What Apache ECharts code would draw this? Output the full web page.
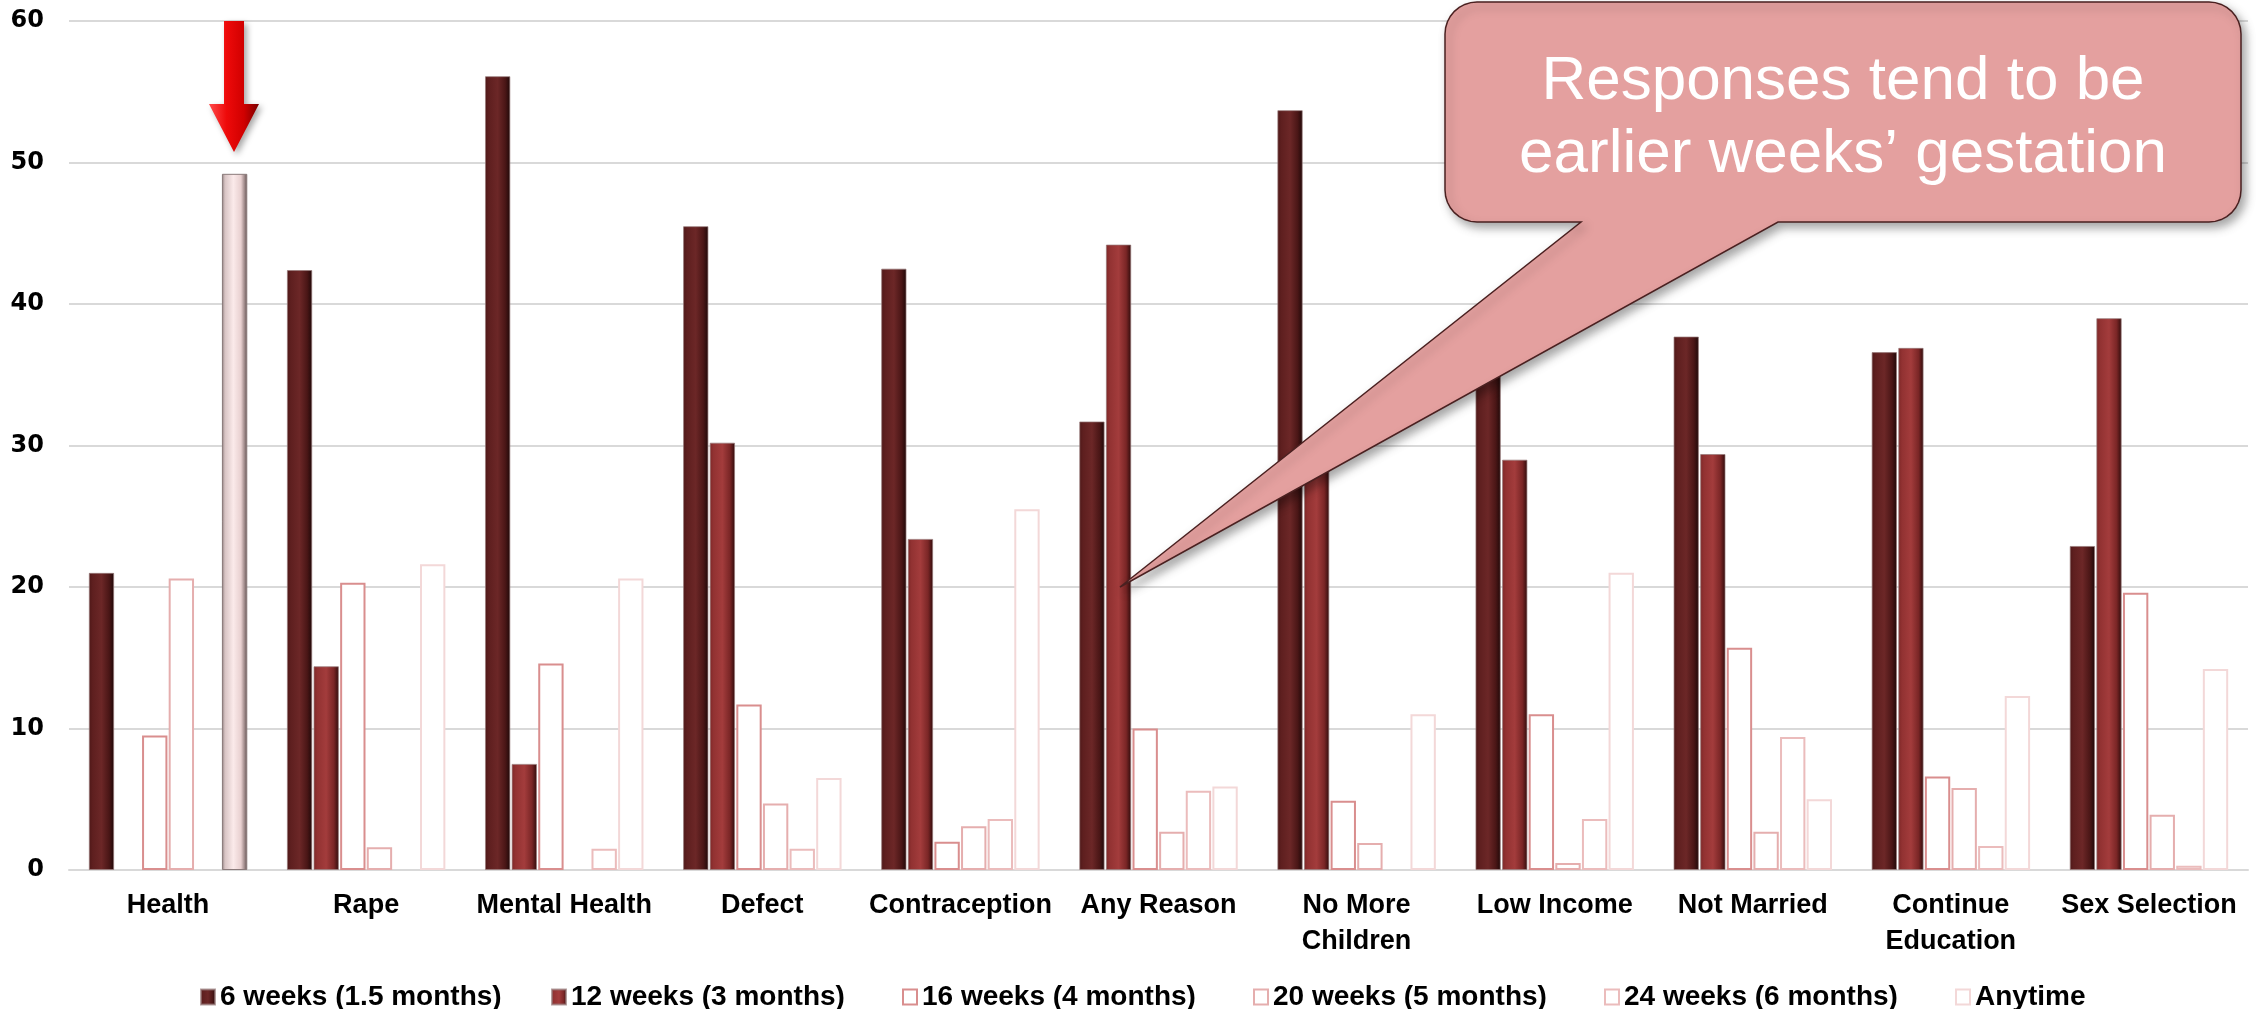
<!DOCTYPE html>
<html>
<head>
<meta charset="utf-8">
<script src="https://cdn.jsdelivr.net/npm/echarts@6/dist/echarts.min.js"></script>
<style>
  html, body { margin: 0; padding: 0; background: #fff; }
  #main { width: 2259px; height: 1009px; }
</style>
</head>
<body>
<div id="main"></div>
<script>
// categories and values (percent)
var categories = ['Health', 'Rape', 'Mental Health', 'Defect', 'Contraception', 'Any Reason',
    'No More\nChildren', 'Low Income', 'Not Married', 'Continue\nEducation', 'Sex Selection'];
var seriesNames = ['6 weeks (1.5 months)', '12 weeks (3 months)', '16 weeks (4 months)',
    '20 weeks (5 months)', '24 weeks (6 months)', 'Anytime'];
var weeks6 = [21.0, 42.4, 56.1, 45.5, 42.5, 31.7, 53.7, 36.0, 37.7, 36.6, 22.9];
var weeks12 = [null, 14.4, 7.5, 30.2, 23.4, 44.2, 29.0, 29.0, 29.4, 36.9, 39.0];
var weeks16 = [9.5, 20.3, 14.6, 11.7, 2.0, 10.0, 4.9, 11.0, 15.7, 6.6, 19.6];
var weeks20 = [20.6, 1.6, null, 4.7, 3.1, 2.7, 1.9, 0.5, 2.7, 5.8, 3.9];
var weeks24 = [null, null, 1.5, 1.5, 3.6, 5.6, null, 3.6, 9.4, 1.7, 0.3];
var anytime = [49.2, 21.6, 20.6, 6.5, 25.5, 5.9, 11.0, 21.0, 5.0, 12.3, 14.2];
var yTicks = [0, 10, 20, 30, 40, 50, 60];
var callout = 'Responses tend to be\nearlier weeks\u2019 gestation';

var font = 'Liberation Sans, Arial, Helvetica, sans-serif';

function hGrad(stops) {
    return new echarts.graphic.LinearGradient(0, 0, 1, 0, stops.map(function (s) {
        return { offset: s[0], color: s[1] };
    }));
}

var darkFill = hGrad([[0, '#4e1818'], [0.15, '#5e1f1f'], [0.5, '#6c2727'], [0.8, '#4a1616'], [1, '#1e0808']]);
var redFill = hGrad([[0, '#7e2727'], [0.15, '#923232'], [0.5, '#a33c3c'], [0.8, '#7a2626'], [1, '#2e0b0b']]);
var highlightFill = hGrad([[0, '#8c7c7c'], [0.12, '#d8c4c4'], [0.45, '#fbeaea'], [0.75, '#e8d0d0'], [0.9, '#9a8585'], [1, '#5e5050']]);

// the Health "Anytime" bar is highlighted in the source
var anytimeData = anytime.map(function (v, i) {
    if (i === 0) {
        return { value: v, itemStyle: { color: highlightFill, borderColor: '#8a7a7a', borderWidth: 1 } };
    }
    return v;
});

var styles = [
    { color: darkFill, borderColor: 'rgba(150,120,120,0.7)', borderWidth: 1 },
    { color: redFill, borderColor: 'rgba(150,120,120,0.7)', borderWidth: 1 },
    { color: '#ffffff', borderColor: '#d98e8e', borderWidth: 2 },
    { color: '#ffffff', borderColor: '#e5aeae', borderWidth: 2 },
    { color: '#ffffff', borderColor: '#ebbcbc', borderWidth: 2 },
    { color: '#ffffff', borderColor: '#f3d8d8', borderWidth: 2 }
];
var values = [weeks6, weeks12, weeks16, weeks20, weeks24, anytimeData];

var series = seriesNames.map(function (name, i) {
    return {
        name: name,
        type: 'bar',
        data: values[i],
        itemStyle: styles[i],
        barGap: '5%',
        barCategoryGap: '20%'
    };
});

// legend entries share a fixed text width so the icons sit evenly apart
var legendData = seriesNames.map(function (name, i) {
    return { name: name, textStyle: { width: i === seriesNames.length - 1 ? 130 : 290 } };
});

// outline of the speech bubble: rounded box with a pointed tail
function bubblePoints(x0, y0, x1, y1, r, tailL, tailR, tip) {
    var pts = [];
    function arc(cx, cy, a0, a1) {
        for (var k = 0; k <= 8; k++) {
            var a = a0 + (a1 - a0) * k / 8;
            pts.push([cx + r * Math.cos(a), cy + r * Math.sin(a)]);
        }
    }
    arc(x0 + r, y0 + r, Math.PI, Math.PI * 1.5);
    arc(x1 - r, y0 + r, Math.PI * 1.5, Math.PI * 2);
    arc(x1 - r, y1 - r, 0, Math.PI * 0.5);
    pts.push([tailR, y1]);
    pts.push(tip);
    pts.push([tailL, y1]);
    arc(x0 + r, y1 - r, Math.PI * 0.5, Math.PI);
    return pts;
}

var myChart = echarts.init(document.getElementById('main'));

var option = {
    backgroundColor: '#ffffff',
    animation: false,
    grid: { left: 69, right: 11, top: 21, bottom: 139 },
    legend: {
        left: 195,
        top: 977,
        icon: 'rect',
        itemWidth: 14,
        itemHeight: 15,
        itemGap: 41,
        data: legendData,
        textStyle: { fontFamily: font, fontWeight: 'bold', fontSize: 28, color: '#000', lineHeight: 30 }
    },
    xAxis: {
        type: 'category',
        data: categories,
        axisTick: { show: false },
        axisLine: { lineStyle: { color: '#d9d9d9', width: 2 } },
        axisLabel: {
            interval: 0, margin: 18, color: '#000',
            fontFamily: font, fontWeight: 'bold', fontSize: 27, lineHeight: 36
        }
    },
    yAxis: {
        type: 'value',
        min: yTicks[0],
        max: yTicks[yTicks.length - 1],
        interval: 10,
        axisLine: { show: false },
        axisTick: { show: false },
        splitLine: { lineStyle: { color: '#d9d9d9', width: 2 } },
        axisLabel: {
            margin: 25, color: '#000',
            fontFamily: 'DejaVu Sans, sans-serif', fontWeight: 'bold', fontSize: 24
        }
    },
    series: series,
    graphic: [
        {
            // red arrow pointing at the Health / Anytime bar
            type: 'polygon',
            z: 100,
            shape: { points: [[224, 21], [244, 21], [244, 104], [259, 104], [234, 152], [209, 104], [224, 104]] },
            style: {
                fill: hGrad([[0, '#ff4a4a'], [0.35, '#ee0a0a'], [0.7, '#d00000'], [1, '#7a0000']]),
                shadowBlur: 6, shadowColor: 'rgba(0,0,0,0.35)', shadowOffsetX: 3, shadowOffsetY: 3
            }
        },
        {
            // speech bubble
            type: 'polygon',
            z: 100,
            shape: { points: bubblePoints(1445, 2, 2241, 222, 32, 1581, 1778, [1120, 587]) },
            style: {
                fill: '#e4a09f', stroke: '#4a2020', lineWidth: 1.5,
                shadowBlur: 10, shadowColor: 'rgba(0,0,0,0.35)', shadowOffsetX: 4, shadowOffsetY: 5
            }
        },
        {
            type: 'text',
            z: 101,
            x: 1843,
            y: 118,
            style: {
                text: callout,
                fill: '#ffffff',
                font: '62px ' + font,
                lineHeight: 73,
                align: 'center',
                verticalAlign: 'middle'
            }
        }
    ]
};
myChart.setOption(option);
window.addEventListener('resize', function () {
    myChart.resize();
});
</script>
</body>
</html>
